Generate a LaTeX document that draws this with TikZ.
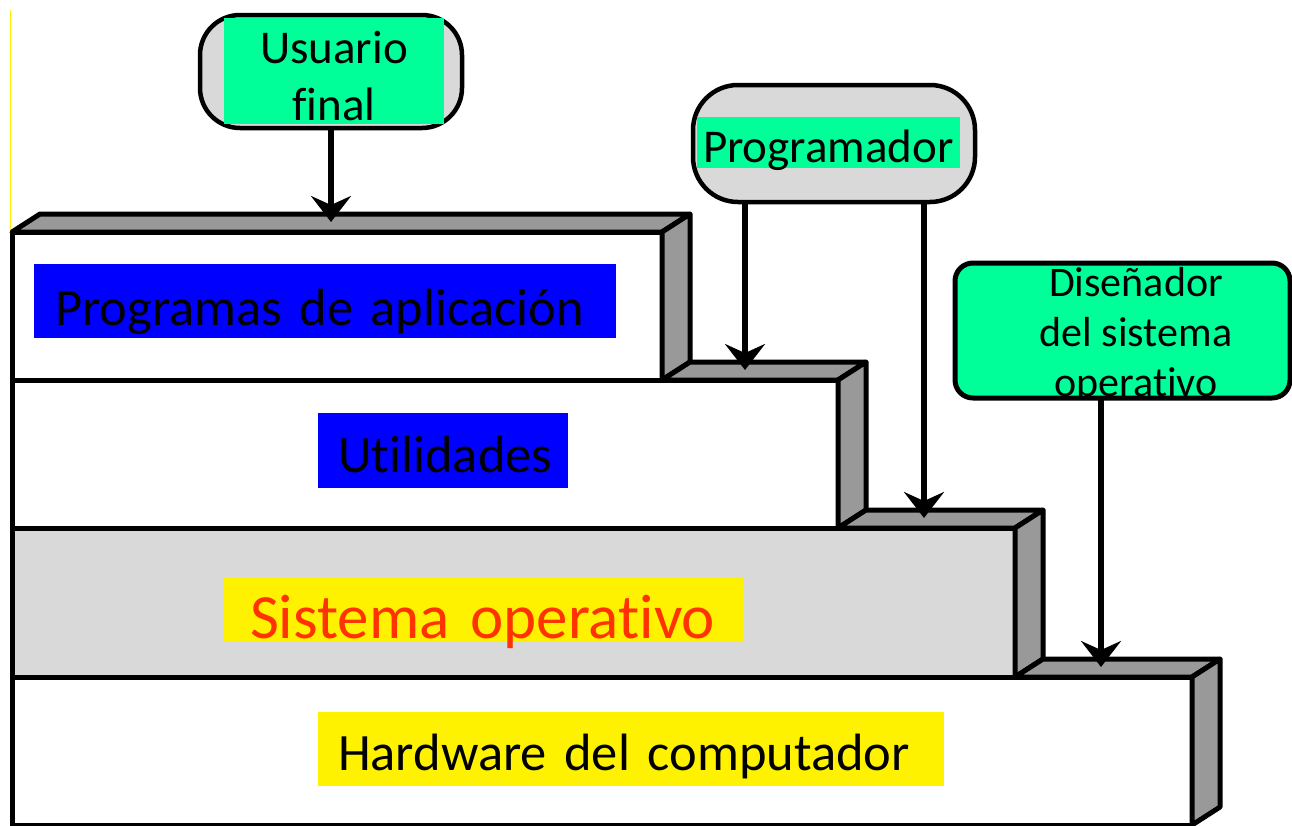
\documentclass[tikz,border=0pt]{standalone}
\usepackage{fontspec}
\setmainfont{Carlito}[Ligatures=NoCommon]
\usetikzlibrary{arrows.meta}
\definecolor{mint}{HTML}{00FF99}
\definecolor{sidegray}{HTML}{999999}
\definecolor{panelgray}{HTML}{D9D9D9}
\definecolor{osred}{HTML}{FF3300}
\begin{document}
\begin{tikzpicture}[x=1pt,y=-1pt,line join=round,
  every node/.style={outer sep=0pt},
  front/.style={draw,line width=5pt,inner sep=0pt,anchor=north west},
  face/.style={draw,line width=5pt,fill=sidegray},
  lbl/.style={inner ysep=0pt,anchor=north west,align=left},
  actor/.style={draw,line width=4.5pt,fill=panelgray,inner sep=0pt,anchor=north west},
  arr/.style={line width=6pt,-{Stealth[length=26pt,width=40pt,inset=9pt]}}]
\useasboundingbox (0,0) rectangle (1292,825);
\fill[white] (0,0) rectangle (1292,825);
% yellow edge line
\draw[yellow,line width=1.5pt] (10.5,10) -- (10.5,825);
% front faces
\node[front,fill=white,minimum width=650,minimum height=148] (b1) at (12,232) {};
\node[front,fill=white,minimum width=826,minimum height=148] (b2) at (12,380) {};
\node[front,fill=panelgray,minimum width=1003,minimum height=149] (b3) at (12,528) {};
\node[front,fill=white,minimum width=1180,minimum height=148] (b4) at (12,677) {};
% top and side faces
\draw[face] (b1.north west) -- ++(28,-18) -- ++(650,0) -- (b1.north east) -- cycle;
\draw[face] (b1.north east) -- ++(28,-18) -- ++(0,148) -- (b1.south east) -- cycle;
\draw[face] (b1.south east) -- ++(28,-18) -- ++(176,0) -- (b2.north east) -- cycle;
\draw[face] (b2.north east) -- ++(28,-18) -- ++(0,148) -- (b2.south east) -- cycle;
\draw[face] (b2.south east) -- ++(28,-18) -- ++(177,0) -- (b3.north east) -- cycle;
\draw[face] (b3.north east) -- ++(28,-18) -- ++(0,149) -- (b3.south east) -- cycle;
\draw[face] (b3.south east) -- ++(28,-18) -- ++(177,0) -- (b4.north east) -- cycle;
\draw[face] (b4.north east) -- ++(28,-18) -- ++(0,148) -- (b4.south east) -- cycle;
% layer labels
\node[lbl,fill=blue,inner xsep=21pt,text width=540pt,text height=61pt,text depth=13pt,
  font=\fontsize{52.5}{60}\selectfont] (pa) at (34,264) {Programas de aplicación};
\node[lbl,fill=blue,inner xsep=20pt,text width=210pt,text height=59pt,text depth=16pt,
  font=\fontsize{52.5}{60}\selectfont] (ut) at (318,413) {Utilidades};
\node[lbl,fill=yellow,text=osred,inner xsep=26pt,text width=467pt,text height=60pt,text depth=4pt,
  font=\fontsize{63}{70}\selectfont] (so) at (224,578) {Sistema operativo};
\node[lbl,fill=yellow,inner xsep=20pt,text width=586pt,text height=58pt,text depth=16pt,
  font=\fontsize{52.5}{60}\selectfont] (hw) at (318,712) {Hardware del computador};
% Usuario final
\node[actor,rounded corners=40pt,minimum width=262,minimum height=113] (uo) at (200,15) {};
\node[fill=mint,inner sep=0pt,anchor=north west,minimum width=220,minimum height=106] (ug) at (224,18) {};
\node[inner sep=0pt,anchor=north,align=center,font=\fontsize{47}{57}\selectfont] (ut2) at (334,27)
  {\rule{0pt}{36pt}Usuario\\final};
% Programador
\node[actor,rounded corners=45pt,minimum width=282,minimum height=117] (po) at (693,85) {};
\node[lbl,fill=mint,inner xsep=6pt,text width=251pt,text height=45pt,text depth=6pt,
  font=\fontsize{47}{57}\selectfont] (pg) at (697,117) {Programador};
% Disenador
\node[draw,line width=5pt,fill=mint,rounded corners=18pt,inner sep=0pt,anchor=north west,
  minimum width=335,minimum height=135] (dn) at (955,263) {};
\begin{scope}
\clip (955,263) rectangle (1292,397);
\node[inner sep=0pt,anchor=north,align=center,font=\fontsize{42}{50}\selectfont] (dt) at (1136,264)
  {\rule{0pt}{32pt}Diseñador\\del sistema\\operativo};
\end{scope}
% arrows
\coordinate (t1) at (331,222);
\coordinate (t2) at (745,370);
\coordinate (t3) at (924,518);
\coordinate (t4) at (1101,667);
\draw[arr] (t1 |- uo.south) -- (t1);
\draw[arr] (t2 |- po.south) -- (t2);
\draw[arr] (t3 |- po.south) -- (t3);
\draw[arr] (t4 |- dn.south) -- (t4);
\end{tikzpicture}
\end{document}
